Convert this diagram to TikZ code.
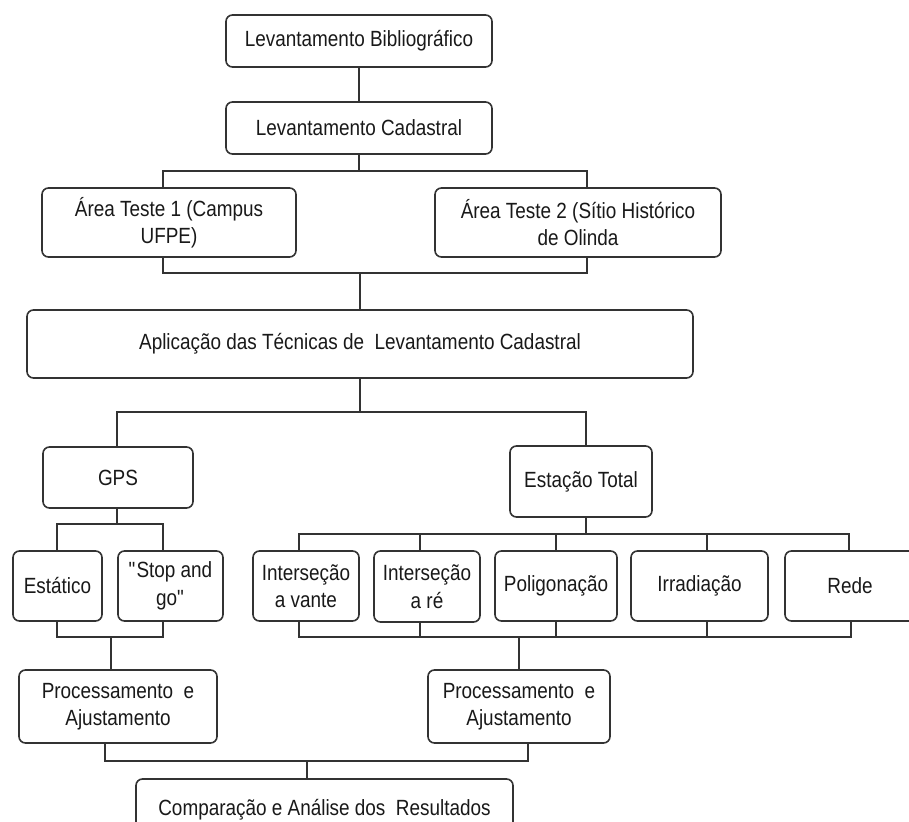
\documentclass[tikz,border=0pt]{standalone}
\usepackage{fontspec}
\setmainfont{Liberation Sans}[FakeStretch=0.86]
\begin{document}
\begin{tikzpicture}[x=1pt,y=-1pt,
  box/.style={draw=black!80, line width=1.6pt, rounded corners=6.5pt, fill=white,
    align=center, inner sep=0pt, text=black!90,
    font=\fontsize{22}{27.5}\selectfont},
  conn/.style={draw=black!80, line width=1.6pt}]
\useasboundingbox (0,0) rectangle (909,821);
\clip (0,0) rectangle (909,821);
\fill[white] (0,0) rectangle (909,821);

% nodes
\node[box, minimum width=266pt, minimum height=52pt] (lb) at (359,41) {Levantamento Bibliográfico};
\node[box, minimum width=266pt, minimum height=52pt] (lc) at (359,128) {Levantamento Cadastral};
\node[box, minimum width=254pt, minimum height=69pt] (at1) at (169,222.5) {Área Teste 1 (Campus\\UFPE)};
\node[box, minimum width=286pt, minimum height=69pt] (at2) at (578,222.5) {Área Teste 2 (Sítio Histórico\\de Olinda};
\node[box, minimum width=666pt, minimum height=68pt] (apl) at (360,344) {Aplicação das Técnicas de \ Levantamento Cadastral};
\node[box, minimum width=150pt, minimum height=61pt] (gps) at (118,477.5) {GPS};
\node[box, minimum width=142pt, minimum height=71pt] (et) at (581,481.5) {Estação Total};
\node[box, minimum width=89pt, minimum height=70pt] (est) at (57.5,586) {Estático};
\node[box, minimum width=105pt, minimum height=70pt] (sg) at (170.5,586) {\textquotedbl Stop and\\go\textquotedbl};
\node[box, minimum width=106pt, minimum height=70pt] (iv) at (306,586) {Interseção\\a vante};
\node[box, minimum width=106pt, minimum height=71pt] (ir) at (427,586.5) {Interseção\\a ré};
\node[box, minimum width=122pt, minimum height=70pt] (pol) at (556,586) {Poligonação};
\node[box, minimum width=137pt, minimum height=70pt] (irr) at (699.5,586) {Irradiação};
\node[box, minimum width=130pt, minimum height=70pt] (rede) at (850,586) {Rede};
\node[box, minimum width=198pt, minimum height=73pt] (p1) at (118,706.5) {Processamento \ e\\Ajustamento};
\node[box, minimum width=182pt, minimum height=73pt] (p2) at (519,706.5) {Processamento \ e\\Ajustamento};
\node[box, minimum width=377pt, minimum height=62pt] (comp) at (324.5,810) {Comparação e Análise dos \ Resultados};

% junction coordinates
\coordinate (j1) at (359,171);
\coordinate (j1l) at (163,171);
\coordinate (j1r) at (587,171);
\coordinate (j2) at (360,273);
\coordinate (j2l) at (163,273);
\coordinate (j2r) at (587,273);
\coordinate (j3) at (360,412);
\coordinate (j3l) at (117,412);
\coordinate (j3r) at (586,412);
\coordinate (j4) at (117,524);
\coordinate (j4l) at (57,524);
\coordinate (j4r) at (163,524);
\coordinate (j5) at (586,534);
\coordinate (j5a) at (299,534);
\coordinate (j5b) at (420,534);
\coordinate (j5c) at (556,534);
\coordinate (j5d) at (707,534);
\coordinate (j5e) at (849,534);
\coordinate (j6) at (111,637);
\coordinate (j6l) at (57,637);
\coordinate (j6r) at (163,637);
\coordinate (j7) at (519,637);
\coordinate (j7a) at (299,637);
\coordinate (j7b) at (420,637);
\coordinate (j7c) at (556,637);
\coordinate (j7d) at (707,637);
\coordinate (j7e) at (851,637);
\coordinate (j8) at (307,761);
\coordinate (j8l) at (105,761);
\coordinate (j8r) at (528,761);

% connectors
\path[conn] (lb) -- (lc);
\path[conn] (lc) -- (j1);
\path[conn] (j1l |- at1.north) -- (j1l) -- (j1r) -- (j1r |- at2.north);
\path[conn] (j2l |- at1.south) -- (j2l) -- (j2r) -- (j2r |- at2.south);
\path[conn] (j2) -- (apl);
\path[conn] (apl) -- (j3);
\path[conn] (j3l |- gps.north) -- (j3l) -- (j3r) -- (j3r |- et.north);
\path[conn] (j4 |- gps.south) -- (j4);
\path[conn] (j4l |- est.north) -- (j4l) -- (j4r) -- (j4r |- sg.north);
\path[conn] (j5 |- et.south) -- (j5);
\path[conn] (j5a |- iv.north) -- (j5a) -- (j5e) -- (j5e |- rede.north);
\path[conn] (j5b) -- (j5b |- ir.north);
\path[conn] (j5c) -- (j5c |- pol.north);
\path[conn] (j5d) -- (j5d |- irr.north);
\path[conn] (j6l |- est.south) -- (j6l) -- (j6r) -- (j6r |- sg.south);
\path[conn] (j6) -- (j6 |- p1.north);
\path[conn] (j7a |- iv.south) -- (j7a) -- (j7e) -- (j7e |- rede.south);
\path[conn] (j7b) -- (j7b |- ir.south);
\path[conn] (j7c) -- (j7c |- pol.south);
\path[conn] (j7d) -- (j7d |- irr.south);
\path[conn] (j7) -- (j7 |- p2.north);
\path[conn] (j8l |- p1.south) -- (j8l) -- (j8r) -- (j8r |- p2.south);
\path[conn] (j8) -- (j8 |- comp.north);
\end{tikzpicture}
\end{document}
